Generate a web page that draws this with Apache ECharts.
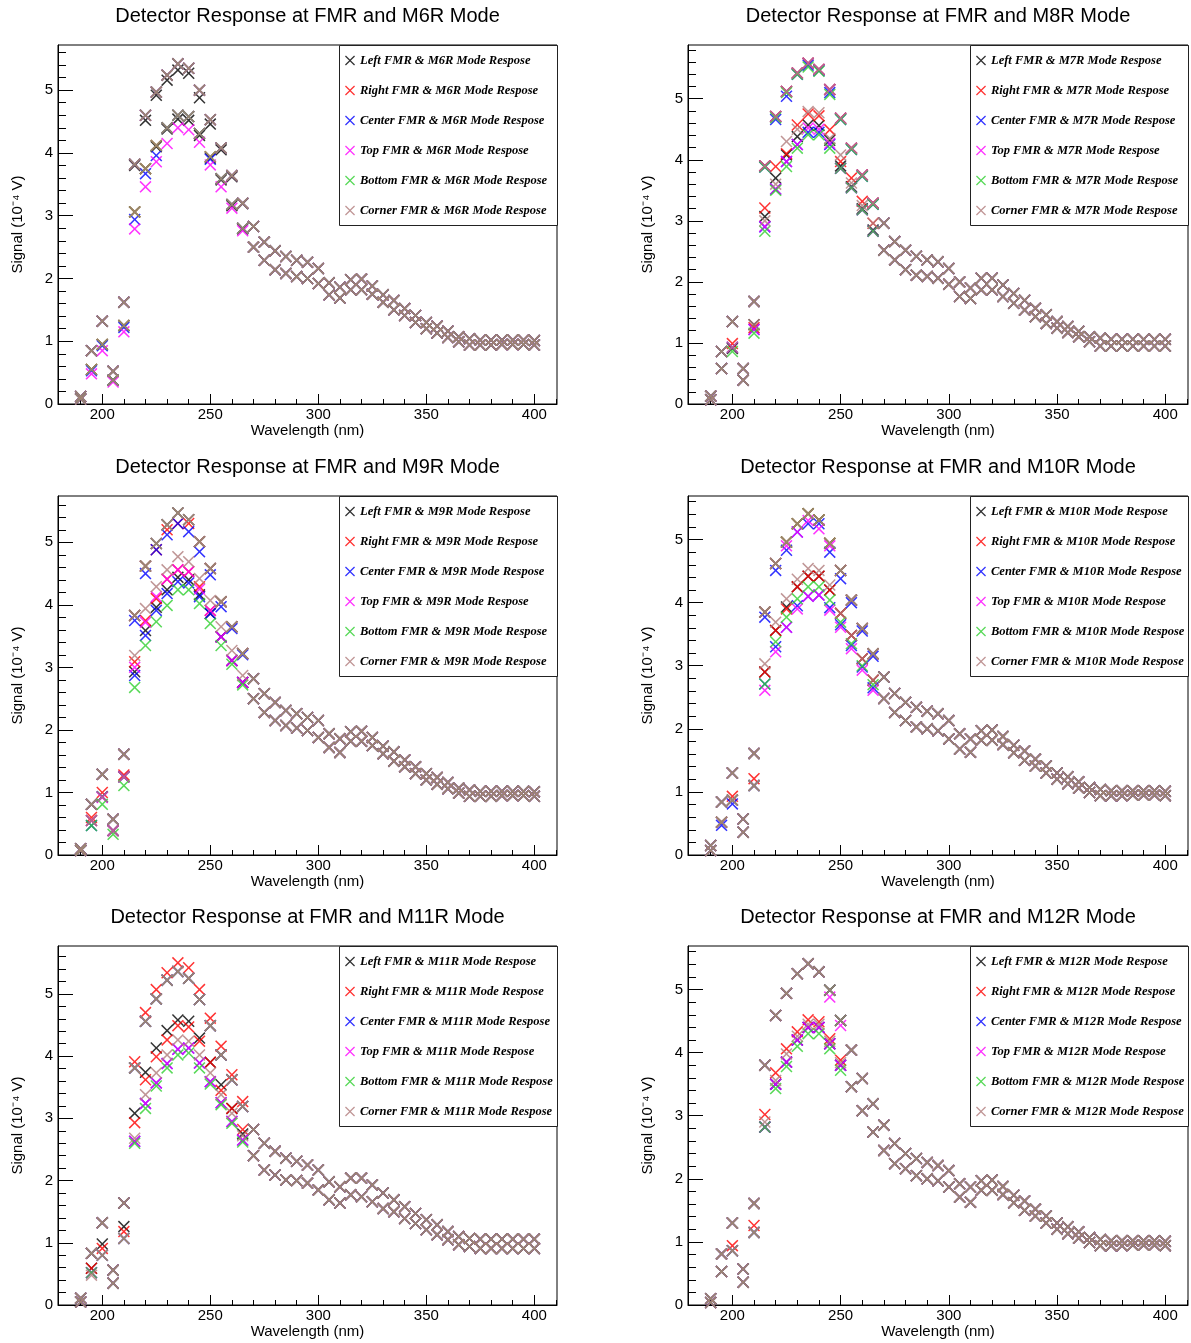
<!DOCTYPE html>
<html>
<head>
<meta charset="utf-8">
<title>Detector Response</title>
<script src="https://cdn.jsdelivr.net/npm/echarts@6/dist/echarts.min.js"></script>
<style>
html,body{margin:0;padding:0;background:#fff;}
#main{width:1191px;height:1343px;}
</style>
</head>
<body>
<div id="main"></div>
<script>
// wavelength points (nm)
var wl = [190,195,200,205,210,215,220,225,230,235,240,245,250,255,260,265,270,275,280,285,290,
          295,300,305,310,315,320,325,330,335,340,345,350,355,360,365,370,375,380,385,390,395,400];

// tick values
var xMajor = [200,250,300,350,400];
var xMinor = [190,210,220,230,240,260,270,280,290,310,320,330,340,360,370,380,390,410];
var yMajor = [0,1,2,3,4,5];
var yMinor = [0.2,0.4,0.6,0.8,1.2,1.4,1.6,1.8,2.2,2.4,2.6,2.8,3.2,3.4,3.6,3.8,4.2,4.4,4.6,4.8,5.2,5.4,5.6,5.8];

// every wavelength has an upper and a lower reading; base curves per panel
var m6Hi = [0.12,0.85,1.32,0.52,1.62,3.82,4.60,4.97,5.24,5.42,5.35,5.00,4.53,4.08,3.64,3.20,2.83,2.58,2.44,2.35,2.29,2.26,2.16,1.93,1.86,1.98,1.99,1.88,1.74,1.65,1.52,1.41,1.30,1.24,1.16,1.07,1.04,1.02,1.02,1.02,1.02,1.02,1.01];
var m6Lo = [0.08,0.55,0.95,0.38,1.25,3.06,3.75,4.12,4.40,4.60,4.58,4.31,3.94,3.59,3.18,2.80,2.50,2.29,2.14,2.08,2.03,2.00,1.92,1.74,1.69,1.82,1.82,1.75,1.62,1.50,1.41,1.30,1.20,1.13,1.06,0.99,0.94,0.94,0.94,0.95,0.95,0.95,0.94];
var m8Hi = [0.13,0.86,1.35,0.58,1.68,3.90,4.71,5.12,5.42,5.58,5.48,5.15,4.68,4.19,3.75,3.29,2.96,2.66,2.52,2.42,2.36,2.33,2.22,2.00,1.90,2.06,2.06,1.95,1.81,1.70,1.57,1.46,1.35,1.27,1.19,1.10,1.08,1.06,1.06,1.06,1.06,1.06,1.06];
var m8Lo = [0.07,0.58,0.93,0.39,1.22,2.90,3.52,3.97,4.25,4.45,4.45,4.25,3.86,3.54,3.18,2.83,2.52,2.36,2.20,2.11,2.09,2.06,1.96,1.76,1.73,1.87,1.87,1.76,1.65,1.54,1.43,1.32,1.24,1.17,1.10,1.02,0.95,0.95,0.95,0.95,0.95,0.95,0.95];
var m9Hi = [0.10,0.81,1.29,0.57,1.61,3.83,4.62,4.98,5.28,5.47,5.36,5.01,4.58,4.05,3.65,3.22,2.82,2.58,2.44,2.31,2.26,2.20,2.15,1.94,1.86,1.97,1.98,1.88,1.74,1.65,1.52,1.41,1.30,1.24,1.16,1.07,1.04,1.02,1.02,1.02,1.02,1.02,1.01];
var m9Lo = [0.07,0.55,0.93,0.39,1.25,2.93,3.59,3.96,4.24,4.44,4.40,4.16,3.86,3.49,3.11,2.76,2.50,2.28,2.15,2.07,2.03,1.99,1.88,1.72,1.64,1.82,1.82,1.75,1.62,1.50,1.41,1.30,1.20,1.13,1.06,0.99,0.94,0.94,0.94,0.95,0.95,0.95,0.94];
var m10Hi = [0.15,0.84,1.30,0.57,1.61,3.85,4.62,4.96,5.25,5.41,5.31,4.94,4.51,4.04,3.59,3.19,2.82,2.56,2.42,2.34,2.28,2.24,2.13,1.92,1.84,1.97,1.98,1.88,1.74,1.65,1.52,1.41,1.30,1.24,1.16,1.07,1.04,1.02,1.02,1.02,1.02,1.02,1.01];
var m10Lo = [0.07,0.52,0.87,0.36,1.10,2.90,3.56,3.93,4.25,4.42,4.42,4.20,3.83,3.48,3.11,2.77,2.48,2.26,2.13,2.03,2.00,1.97,1.84,1.68,1.63,1.82,1.82,1.75,1.62,1.50,1.41,1.30,1.20,1.13,1.06,0.99,0.94,0.94,0.94,0.95,0.95,0.95,0.94];
var m11Hi = [0.11,0.83,1.32,0.56,1.64,3.81,4.56,4.92,5.22,5.36,5.25,4.91,4.49,4.02,3.62,3.19,2.82,2.60,2.47,2.36,2.31,2.25,2.17,1.98,1.90,2.04,2.04,1.93,1.80,1.69,1.58,1.47,1.37,1.29,1.18,1.10,1.07,1.06,1.06,1.06,1.06,1.06,1.06];
var m11Lo = [0.05,0.52,0.80,0.35,1.07,2.63,3.24,3.57,3.88,4.11,4.13,3.89,3.59,3.25,2.95,2.65,2.40,2.17,2.09,2.01,2.00,1.96,1.85,1.69,1.64,1.77,1.74,1.66,1.55,1.50,1.39,1.31,1.21,1.13,1.05,0.97,0.94,0.91,0.91,0.91,0.91,0.91,0.91];
var m12Hi = [0.10,0.81,1.30,0.57,1.61,3.80,4.59,4.94,5.25,5.41,5.28,4.99,4.51,4.04,3.59,3.19,2.85,2.56,2.40,2.32,2.26,2.21,2.13,1.92,1.87,1.97,1.98,1.88,1.74,1.65,1.52,1.41,1.30,1.24,1.16,1.07,1.04,1.02,1.02,1.02,1.02,1.02,1.01];
var m12Lo = [0.04,0.53,0.86,0.36,1.15,2.82,3.50,3.85,4.20,4.40,4.40,4.14,3.80,3.46,3.08,2.74,2.45,2.24,2.16,2.05,2.00,1.97,1.87,1.71,1.63,1.82,1.82,1.75,1.62,1.50,1.41,1.30,1.20,1.13,1.06,0.99,0.94,0.94,0.94,0.95,0.95,0.95,0.94];

// per-detector readings where they split from the base, 195..265 nm
var m6LeftHi = [0.85,1.32,0.52,1.62,3.80,4.52,4.92,5.16,5.32,5.27,4.88,4.46,4.05,3.62,3.19];
var m6LeftLo = [0.55,0.95,0.38,1.25,3.06,3.75,4.10,4.38,4.54,4.52,4.28,3.92,3.57,3.16,2.79];
var m6CenterLo = [0.53,0.93,0.38,1.22,2.94,3.67,3.96,4.40,4.60,4.58,4.31,3.90,3.59,3.18,2.80];
var m6TopLo = [0.48,0.85,0.35,1.15,2.79,3.46,3.86,4.15,4.40,4.37,4.17,3.81,3.46,3.12,2.76];

var m8LeftLo = [0.58,0.91,0.39,1.30,3.07,3.70,4.08,4.38,4.57,4.56,4.32,3.90,3.56,3.20,2.85];
var m8RightLo = [0.58,0.99,0.39,1.25,3.21,3.89,4.10,4.57,4.75,4.72,4.49,3.97,3.70,3.32,2.96];
var m8CenterHi = [0.86,1.35,0.58,1.68,3.88,4.66,5.04,5.40,5.55,5.46,5.10,4.66,4.17,3.73,3.27];
var m8TopLo = [0.58,0.93,0.39,1.22,2.91,3.52,3.97,4.25,4.52,4.50,4.27,3.86,3.54,3.18,2.83];
var m8BottomHi = [0.86,1.35,0.58,1.68,3.88,4.69,5.10,5.40,5.52,5.45,5.07,4.66,4.17,3.73,3.27];
var m8BottomLo = [0.58,0.86,0.39,1.16,2.83,3.50,3.89,4.19,4.41,4.41,4.19,3.86,3.54,3.18,2.83];
var m8CornerLo = [0.58,0.93,0.39,1.30,3.00,3.60,4.30,4.50,4.79,4.77,4.35,4.08,3.62,3.25,2.96];

var m9RightHi = [0.81,1.29,0.57,1.61,3.83,4.62,4.88,5.20,5.30,5.30,5.01,4.58,4.05,3.65,3.22];
var m9RightLo = [0.60,1.00,0.39,1.28,3.09,3.75,4.10,4.41,4.56,4.53,4.29,3.91,3.49,3.11,2.76];
var m9CenterHi = [0.81,1.29,0.57,1.61,3.75,4.50,4.88,5.12,5.30,5.17,4.85,4.48,3.97,3.62,3.20];
var m9CenterLo = [0.47,0.93,0.39,1.25,2.87,3.51,3.91,4.18,4.37,4.35,4.13,3.86,3.49,3.11,2.76];
var m9TopLo = [0.55,0.92,0.39,1.25,3.00,3.72,4.13,4.41,4.56,4.53,4.25,3.91,3.49,3.11,2.76];
var m9BottomLo = [0.47,0.81,0.33,1.11,2.68,3.35,3.73,3.99,4.24,4.24,4.02,3.70,3.35,3.05,2.72];
var m9CornerLo = [0.55,0.93,0.39,1.25,3.19,3.94,4.29,4.56,4.77,4.69,4.42,4.07,3.65,3.27,2.87];

var m10RightLo = [0.52,0.93,0.36,1.21,2.90,3.56,3.90,4.25,4.42,4.42,4.20,3.83,3.48,3.11,2.77];
var m10CenterHi = [0.84,1.30,0.57,1.61,3.77,4.51,4.83,5.12,5.25,5.25,4.80,4.38,4.00,3.55,3.15];
var m10CenterLo = [0.47,0.81,0.36,1.10,2.71,3.30,3.61,3.95,4.10,4.12,3.92,3.65,3.32,2.98,2.65];
var m10TopHi = [0.84,1.30,0.57,1.61,3.85,4.62,4.90,5.12,5.30,5.17,4.90,4.51,4.04,3.59,3.19];
var m10TopLo = [0.52,0.87,0.36,1.10,2.61,3.22,3.61,3.90,4.10,4.12,3.88,3.61,3.27,2.93,2.61];
var m10BottomLo = [0.52,0.87,0.36,1.10,2.71,3.38,3.77,4.06,4.25,4.25,4.04,3.69,3.35,3.00,2.70];
var m10CornerLo = [0.52,0.87,0.36,1.10,3.03,3.69,4.06,4.37,4.54,4.51,4.28,3.83,3.48,3.11,2.77];

var m11LeftLo = [0.59,0.98,0.35,1.26,3.08,3.74,4.13,4.41,4.58,4.56,4.29,3.90,3.54,3.16,2.75];
var m11RightHi = [0.83,1.32,0.56,1.64,3.91,4.70,5.07,5.34,5.50,5.42,5.07,4.61,4.16,3.70,3.27];
var m11RightLo = [0.59,0.91,0.35,1.18,2.93,3.62,3.99,4.26,4.49,4.47,4.24,3.90,3.45,3.16,2.82];
var m11BottomLo = [0.52,0.80,0.35,1.07,2.60,3.16,3.52,3.81,4.02,4.05,3.81,3.55,3.22,2.92,2.62];
var m11CornerLo = [0.48,0.80,0.35,1.07,2.68,3.38,3.73,4.02,4.26,4.24,4.02,3.73,3.38,3.08,2.72];

var m12RightLo = [0.53,0.94,0.36,1.26,3.02,3.68,4.06,4.33,4.52,4.49,4.22,3.88,3.46,3.08,2.74];
var m12TopHi = [0.81,1.30,0.57,1.61,3.80,4.59,4.94,5.25,5.41,5.28,4.88,4.43,4.04,3.59,3.19];
var m12BottomLo = [0.53,0.86,0.36,1.15,2.82,3.43,3.78,4.10,4.30,4.30,4.06,3.72,3.46,3.08,2.74];
var m12CornerLo = [0.53,0.86,0.36,1.15,2.90,3.56,3.98,4.26,4.45,4.45,4.18,3.84,3.46,3.08,2.74];

var titles = ['Detector Response at FMR and M6R Mode','Detector Response at FMR and M8R Mode',
              'Detector Response at FMR and M9R Mode','Detector Response at FMR and M10R Mode',
              'Detector Response at FMR and M11R Mode','Detector Response at FMR and M12R Mode'];
var legendModes = ['M6R','M7R','M9R','M10R','M11R','M12R'];
var detectors = ['Left','Right','Center','Top','Bottom','Corner'];
var colors = ['#000000','#ff0000','#0000ff','#ff00ff','#2fcf2f','#b07c7c'];
var yMaxes = [5.72,5.88,5.74,5.69,5.77,5.69];

// panel -> detector -> [hi, lo] overrides
var baseHi = [m6Hi,m8Hi,m9Hi,m10Hi,m11Hi,m12Hi];
var baseLo = [m6Lo,m8Lo,m9Lo,m10Lo,m11Lo,m12Lo];
var parts = [
  [[m6LeftHi,m6LeftLo],[null,null],[null,m6CenterLo],[null,m6TopLo],[null,null],[null,null]],
  [[null,m8LeftLo],[null,m8RightLo],[m8CenterHi,null],[null,m8TopLo],[m8BottomHi,m8BottomLo],[null,m8CornerLo]],
  [[null,null],[m9RightHi,m9RightLo],[m9CenterHi,m9CenterLo],[null,m9TopLo],[null,m9BottomLo],[null,m9CornerLo]],
  [[null,null],[null,m10RightLo],[m10CenterHi,m10CenterLo],[m10TopHi,m10TopLo],[null,m10BottomLo],[null,m10CornerLo]],
  [[null,m11LeftLo],[m11RightHi,m11RightLo],[null,null],[null,null],[null,m11BottomLo],[null,m11CornerLo]],
  [[null,null],[null,m12RightLo],[null,null],[m12TopHi,null],[null,m12BottomLo],[null,m12CornerLo]]
];

var FONT = '"Liberation Sans", Arial, Helvetica, sans-serif';
// thin "x" marker
var XMARK = 'path://M0,9 L9,0 L50,41 L91,0 L100,9 L59,50 L100,91 L91,100 L50,59 L9,100 L0,91 L41,50 Z';

function patch(base, part) {
    var out = base.slice();
    if (part) {
        for (var i = 0; i < part.length; i++) out[i + 1] = part[i];
    }
    return out;
}

var gridLefts = [58, 688];
var gridWidths = [499, 500];
var gridTops = [45, 496, 946];
var gridH = 359;

var option = {
    animation: false,
    backgroundColor: '#fff',
    title: [], grid: [], xAxis: [], yAxis: [], legend: [], series: [],
    graphic: []
};

for (var p = 0; p < 6; p++) {
    var col = p % 2, row = Math.floor(p / 2);
    var gl = gridLefts[col], gw = gridWidths[col], gt = gridTops[row];

    option.title.push({
        text: titles[p], left: gl + gw / 2, top: gt - 39, textAlign: 'center', padding: 0,
        textStyle: { fontSize: 20, fontWeight: 'normal', color: '#000', fontFamily: FONT }
    });
    option.grid.push({
        left: gl, top: gt, width: gw, height: gridH, show: true,
        borderColor: '#000', borderWidth: 1, backgroundColor: '#fff'
    });

    // major x axis
    option.xAxis.push({
        gridIndex: p, type: 'value', min: 179.5, max: 410.5, position: 'bottom',
        name: 'Wavelength (nm)', nameLocation: 'middle', nameGap: 17,
        nameTextStyle: { fontSize: 15, color: '#000', fontFamily: FONT },
        axisLine: { show: true, lineStyle: { color: '#000', width: 1 } },
        axisTick: { show: true, inside: true, length: 10, customValues: xMajor, lineStyle: { color: '#000' } },
        axisLabel: { show: true, customValues: xMajor, fontSize: 15, color: '#000', margin: 3, fontFamily: FONT },
        splitLine: { show: false }
    });
    // minor x ticks
    option.xAxis.push({
        gridIndex: p, type: 'value', min: 179.5, max: 410.5, position: 'bottom',
        axisLine: { show: false },
        axisTick: { show: true, inside: true, length: 5, customValues: xMinor, lineStyle: { color: '#000' } },
        axisLabel: { show: false }, splitLine: { show: false }
    });

    var ym = yMaxes[p];
    option.yAxis.push({
        gridIndex: p, type: 'value', min: 0, max: ym, position: 'left',
        name: 'Signal (10\u207B\u2074 V)', nameLocation: 'middle', nameGap: 33,
        nameTextStyle: { fontSize: 15, color: '#000', fontFamily: FONT },
        axisLine: { show: true, lineStyle: { color: '#000', width: 1 } },
        axisTick: { show: true, inside: true, length: 15, customValues: yMajor, lineStyle: { color: '#000' } },
        axisLabel: { show: true, customValues: yMajor, fontSize: 15, color: '#000', margin: 5, fontFamily: FONT },
        splitLine: { show: false }
    });
    option.yAxis.push({
        gridIndex: p, type: 'value', min: 0, max: ym, position: 'left',
        axisLine: { show: false },
        axisTick: { show: true, inside: true, length: 8,
                    customValues: yMinor.filter(function (v) { return v < ym; }),
                    lineStyle: { color: '#000' } },
        axisLabel: { show: false }, splitLine: { show: false }
    });

    // legend box
    var boxL = gl + gw - 218;
    option.graphic.push({
        type: 'rect', z: 5, silent: true,
        shape: { x: boxL + 0.5, y: gt + 0.5, width: 218, height: 180 },
        style: { fill: '#fff', stroke: '#222', lineWidth: 1 }
    });

    var names = [];
    for (var s = 0; s < 6; s++) {
        var nm = detectors[s] + ' FMR & ' + legendModes[p] + ' Mode Respose';
        names.push(nm);
        var hi = patch(baseHi[p], parts[p][s][0]);
        var lo = patch(baseLo[p], parts[p][s][1]);
        var data = [];
        for (var i = 0; i < wl.length; i++) data.push([wl[i], hi[i]]);
        for (var j = 0; j < wl.length; j++) data.push([wl[j], lo[j]]);
        option.series.push({
            type: 'scatter', name: nm, xAxisIndex: 2 * p, yAxisIndex: 2 * p,
            symbol: XMARK, symbolSize: 12, silent: true,
            itemStyle: { color: colors[s] },
            emphasis: { disabled: true },
            data: data
        });
    }

    option.legend.push({
        data: names, orient: 'vertical', left: boxL + 6, top: gt + 9, padding: 0,
        itemWidth: 10, itemHeight: 10, itemGap: 17, selectedMode: false, z: 6,
        icon: XMARK,
        textStyle: { fontSize: 12.5, fontWeight: 'bold', fontStyle: 'italic', color: '#000',
                     fontFamily: '"Liberation Serif", "Times New Roman", serif', lineHeight: 10 }
    });
}

var myChart = echarts.init(document.getElementById('main'), null, { renderer: 'canvas' });
myChart.setOption(option);
</script>
</body>
</html>
